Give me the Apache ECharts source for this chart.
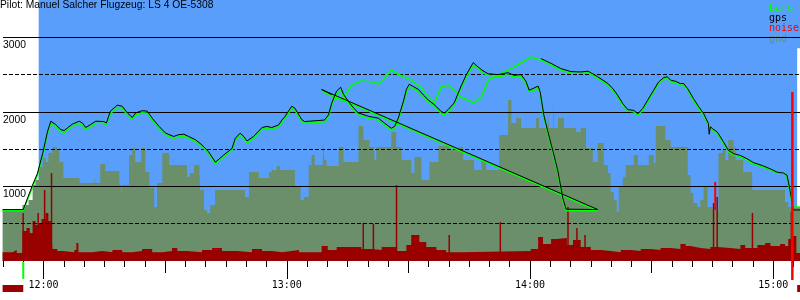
<!DOCTYPE html>
<html><head><meta charset="utf-8">
<script src="https://cdn.jsdelivr.net/npm/echarts@6/dist/echarts.min.js"></script>
<style>html,body{margin:0;padding:0;background:#fff}#c{width:800px;height:300px}</style>
</head><body><div id="c"></div>
<script>
// time values: minutes since midnight; altitudes: metres
const titleText = 'Pilot: Manuel Salcher Flugzeug: LS 4 OE-5308';
const seriesNames = ['baro', 'gps', 'noise', 'gnd'];
const hourTicks = [720, 780, 840, 900];
const halfHourTicks = [750, 810, 870];
const timeMin = 710, timeMax = 906.6;
const altMax = 3500;
const skySpan = [718.8, 905.9];

const gnd = [[709.9,684],[714.8,751],[716.3,818],[717.3,1019],[718.0,1086],[718.8,1153],[719.0,1261],[719.8,1381],[720.5,1328],[721.2,1448],[722.2,1529],[723.4,1489],[723.9,1328],[724.9,1113],[728.9,1046],[732.5,1113],[732.8,1046],[734.0,1301],[735.2,1207],[738.7,1019],[739.2,858],[739.4,1019],[741.1,1421],[741.9,1515],[742.6,1328],[744.1,1515],[745.1,1193],[746.1,979],[747.3,724],[748.0,1046],[749.3,1448],[751.0,1287],[755.4,1126],[756.1,1180],[757.1,1287],[758.4,1381],[758.6,952],[759.6,684],[760.3,644],[761.1,751],[762.3,952],[769.7,858],[770.7,1193],[773.1,1113],[775.6,1193],[776.3,1220],[777.5,1274],[778.3,1220],[782.0,992],[783.4,818],[784.2,858],[785.4,1287],[786.1,1421],[786.9,1287],[788.9,1623],[789.3,1354],[789.8,1274],[792.8,1529],[794.0,1328],[797.7,1810],[798.9,1623],[800.4,1529],[801.6,1354],[802.1,1529],[805.8,1730],[807.0,1529],[808.3,1354],[810.7,1180],[811.5,1395],[813.2,1086],[815.2,1328],[817.4,1542],[820.1,1489],[822.3,1529],[823.5,1354],[826.2,1220],[828.0,1354],[829.2,1220],[832.4,1690],[834.6,2159],[835.4,1851],[836.6,1918],[837.8,1784],[841.5,1918],[842.2,1784],[844.4,2025],[844.7,1784],[845.7,2199],[845.9,1784],[846.9,1918],[848.4,1784],[851.3,1730],[852.5,1784],[853.8,1515],[855.5,1328],[856.7,1582],[858.2,1287],[859.2,1180],[859.9,925],[860.7,818],[861.4,657],[861.9,992],[862.9,1126],[863.6,1287],[865.6,1421],[866.6,1287],[869.3,1421],[870.5,1314],[871.0,1810],[873.4,1623],[874.7,1529],[878.9,1153],[879.6,912],[880.3,778],[881.3,724],[882.0,818],[882.8,992],[883.8,724],[885.0,684],[886.5,1448],[887.5,1489],[888.2,1354],[888.9,1623],[890.2,1529],[890.7,1354],[892.6,1193],[894.8,952],[902.9,791],[903.7,724],[906.6,724]];

const baro = [[709.9,675],[715.0,675],[716.1,831],[717.3,996],[718.5,1153],[719.8,1421],[721.0,1716],[721.8,1847],[722.2,1868],[723.0,1801],[724.3,1734],[725.1,1726],[725.9,1757],[727.1,1810],[728.8,1847],[729.6,1824],[730.4,1766],[731.6,1801],[732.9,1847],[734.9,1847],[735.5,1824],[736.5,1981],[738.2,2061],[739.4,2048],[740.7,1958],[741.9,1900],[742.7,1958],[744.3,1989],[745.6,1981],[746.8,1891],[748.5,1780],[750.1,1690],[752.1,1645],[753.4,1667],[754.6,1676],[755.8,1645],[757.5,1600],[759.1,1533],[760.7,1444],[762.4,1301],[764.4,1399],[766.5,1489],[767.3,1623],[768.5,1690],[769.4,1645],[770.2,1586],[771.8,1645],[773.9,1766],[775.1,1780],[776.3,1766],[778.0,1801],[778.8,1864],[779.6,1914],[781.2,2048],[782.0,2025],[783.7,1868],[784.4,1847],[789.3,1868],[790.3,1935],[791.1,2092],[792.3,2249],[793.3,2293],[794.0,2203],[795.2,2115],[796.5,2025],[797.7,1958],[800.2,1914],[802.6,1891],[804.1,1824],[805.8,1757],[806.6,1780],[807.5,1891],[808.8,2115],[809.5,2270],[810.2,2337],[811.2,2316],[812.5,2270],[813.7,2203],[814.9,2136],[816.4,2069],[818.1,1981],[818.9,1958],[819.8,2002],[821.3,2092],[823.0,2316],[824.3,2471],[826.0,2628],[827.2,2584],[828.4,2517],[829.7,2494],[832.1,2471],[834.6,2494],[836.1,2471],[837.8,2471],[839.0,2383],[839.8,2270],[841.0,2293],[842.0,2316],[842.5,2249],[843.4,1935],[844.4,1712],[845.7,1444],[846.9,1176],[848.1,818],[848.9,675],[856.7,675],
[788.6,2284],[791.1,2213],[793.5,2159],[794.8,2253],[796.0,2360],[798.4,2414],[801.4,2400],[802.6,2374],[804.1,2454],[805.8,2561],[807.0,2521],[808.3,2481],[810.7,2427],[813.2,2320],[814.9,2199],[816.4,2119],[818.1,2333],[819.8,2360],[823.0,2199],[826.2,2119],[828.0,2199],[829.7,2427],[832.1,2494],[836.1,2601],[839.0,2695],[840.2,2736],[842.7,2695],[845.2,2628],[847.6,2561],[850.1,2521],[852.5,2517],[854.3,2525],[855.5,2494],[856.7,2450],[858.0,2404],[859.2,2360],[860.4,2293],[861.6,2203],[862.9,2092],[864.1,2012],[865.6,2002],[866.6,1958],[867.8,2025],[869.0,2136],[870.5,2270],[871.7,2383],[873.0,2441],[873.9,2450],[874.7,2404],[875.9,2391],[877.1,2360],[877.9,2360],[878.9,2293],[880.3,2159],[881.6,2048],[882.8,1958],[884.0,1824],[885.0,1757],[886.2,1712],[887.7,1578],[888.9,1466],[890.2,1421],[891.9,1399],[893.6,1354],[895.1,1301],[897.3,1265],[899.3,1220],[901.0,1176],[902.5,1176],[903.4,1130],[904.2,908],[904.7,751],[904.9,724],[906.6,724]];

const gps = [[709.9,690],[715.0,690],[716.1,850],[717.3,1020],[718.5,1175],[719.8,1445],[721.0,1740],[721.8,1875],[722.2,1895],[723.0,1830],[724.3,1760],[725.1,1750],[725.9,1785],[727.1,1835],[728.8,1875],[729.6,1850],[730.4,1790],[731.6,1830],[732.9,1875],[734.9,1870],[735.5,1850],[736.5,2010],[738.2,2090],[739.4,2075],[740.7,1985],[741.9,1925],[742.7,1985],[744.3,2015],[745.6,2010],[746.8,1915],[748.5,1805],[750.1,1715],[752.1,1670],[753.4,1695],[754.6,1700],[755.8,1670],[757.5,1625],[759.1,1555],[760.7,1465],[762.4,1325],[764.4,1420],[766.5,1510],[767.3,1645],[768.5,1715],[769.4,1670],[770.2,1610],[771.8,1670],[773.9,1790],[775.1,1805],[776.3,1790],[778.0,1825],[778.8,1890],[779.6,1940],[781.2,2075],[782.0,2050],[783.7,1895],[784.4,1870],[789.3,1890],[790.3,1960],[791.1,2120],[792.3,2280],[793.3,2330],[794.0,2235],[795.2,2140],[796.5,2050],[797.7,1985],[800.2,1940],[802.6,1915],[804.1,1850],[805.8,1780],[806.6,1805],[807.5,1915],[808.8,2145],[809.5,2300],[810.2,2370],[811.2,2340],[812.5,2300],[813.7,2225],[814.9,2160],[816.4,2095],[818.1,2005],[818.9,1985],[819.8,2030],[821.3,2120],[823.0,2345],[824.3,2500],[826.0,2660],[827.2,2600],[828.4,2550],[829.7,2510],[832.1,2500],[834.6,2525],[836.1,2490],[837.8,2500],[839.0,2410],[839.8,2290],[841.0,2320],[842.0,2345],[842.5,2270],[843.4,1960],[844.4,1735],[845.7,1465],[846.9,1200],[848.1,840],[848.9,695],[856.7,690],
[788.6,2300],[791.1,2230],[792.0,'-'],
[842.7,2715],[845.2,2650],[847.6,2580],[850.1,2540],[852.5,2535],[854.3,2545],[855.5,2510],[856.7,2470],[858.0,2425],[859.2,2380],[860.4,2315],[861.6,2225],[862.9,2110],[864.1,2030],[865.6,2020],[866.6,1975],[867.8,2045],[869.0,2155],[870.5,2290],[871.7,2400],[873.0,2460],[873.9,2470],[874.7,2425],[875.9,2410],[877.1,2380],[877.9,2380],[878.9,2310],[880.3,2180],[881.6,2070],[882.8,1980],[884.0,1845],[884.2,1700],[884.5,1800],[885.0,1775],[886.2,1730],[887.7,1600],[888.9,1485],[890.2,1440],[891.9,1415],[893.6,1370],[895.1,1320],[897.3,1280],[899.3,1235],[901.0,1190],[902.5,1180],[903.4,1150],[904.2,930],[904.7,770],[904.9,684],[906.6,684]];

// noise level (0..1000 scale)
const noise = [[709.9,34],[712.4,38],[712.9,42],[713.4,31],[714.8,115],[715.8,126],[716.6,107],[717.3,153],[718.0,138],[718.8,146],[719.5,161],[720.5,184],[721.2,153],[722.0,84],[722.2,46],[723.4,38],[724.7,34],[727.6,42],[728.1,69],[728.6,34],[732.0,38],[734.5,34],[737.0,42],[739.4,34],[741.9,38],[744.3,46],[746.8,34],[749.3,38],[751.7,50],[753.0,38],[755.4,34],[759.1,42],[761.6,50],[764.0,38],[767.7,34],[771.4,46],[773.9,38],[776.3,34],[778.8,38],[781.2,42],[783.0,34],[788.6,57],[790.1,42],[792.3,54],[798.4,46],[800.9,42],[803.4,54],[807.0,38],[809.5,61],[810.7,100],[812.7,73],[814.4,54],[816.9,42],[819.3,34],[823.0,38],[840.2,46],[842.0,92],[843.2,65],[845.2,84],[846.6,88],[849.1,61],[850.6,80],[852.5,54],[855.0,42],[857.5,38],[859.9,34],[862.4,42],[864.8,38],[867.3,46],[869.8,42],[872.2,50],[874.7,46],[877.1,65],[878.4,57],[879.6,50],[882.1,46],[884.5,54],[886.2,50],[889.4,46],[891.9,61],[893.1,50],[896.1,61],[898.0,69],[899.3,57],[901.7,65],[902.9,57],[903.7,84],[904.7,96],[905.7,31],[906.6,31]];
const noiseSpikes = [[714.7,184],[718.4,184],[720.0,272],[721.7,337],[798.6,146],[801.1,142],[806.8,291],[819.8,100],[832.4,149],[849.1,207],[851.3,126],[853.3,100],[885.0,222],[885.9,245],[894.6,184],[904.2,188]];
const noiseSpikesHigh = [[849.1,375],[885.9,303]];

const takeoff = [715.0];
const landing = [[904.7,2266]];
const groundTimes = [[709.9,715.0],[905.9,906.6]];

const C = {sky:'#5a9efc', gnd:'#6a8f6a', baro:'#00ff00', gps:'#000000', noise:'#990000', noiseHi:'#ff0000'};
const fmt = v => { const h = Math.floor(v/60), m = Math.round(v%60); return h + ':' + (m<10?'0':'') + m; };

const chart = echarts.init(document.getElementById('c'), null, {renderer:'canvas'});
const xBase = {type:'value', min:timeMin, max:timeMax, position:'bottom', gridIndex:0, z:5,
  axisLine:{show:false}, splitLine:{show:false}};
chart.setOption({
  animation:false,
  backgroundColor:'#ffffff',
  title:{text:titleText, left:0, top:0, padding:0, z:10,
    textStyle:{fontFamily:'Liberation Sans', fontSize:10.3, fontWeight:'normal', color:'#000'}},
  legend:{orient:'vertical', left:764, top:0, padding:[3,6,4,0], itemGap:0, itemWidth:0, itemHeight:10,
    icon:'none', selectedMode:false, backgroundColor:C.sky, z:4,
    textStyle:{fontFamily:'DejaVu Sans Mono', fontSize:10, lineHeight:10.3},
    data:[{name:'baro', textStyle:{color:C.baro}}, {name:'gps', textStyle:{color:'#000'}},
          {name:'noise', textStyle:{color:C.noiseHi}}, {name:'gnd', textStyle:{color:C.gnd}}]},
  grid:{left:0, right:0, top:0, bottom:39, containLabel:false},
  xAxis:[
    Object.assign({}, xBase, {interval:5, axisTick:{length:6, lineStyle:{color:'#000'}}, axisLabel:{show:false}}),
    Object.assign({}, xBase, {axisTick:{customValues:halfHourTicks, length:12, lineStyle:{color:'#000'}}, axisLabel:{show:false}}),
    Object.assign({}, xBase, {axisTick:{customValues:hourTicks, length:18, lineStyle:{color:'#000'}},
      axisLabel:{customValues:hourTicks, formatter:fmt, margin:19, fontFamily:'DejaVu Sans Mono', fontSize:10, color:'#000'}})
  ],
  yAxis:[
    {type:'value', min:0, max:altMax, interval:1000, z:5, axisLine:{show:false}, axisTick:{show:false},
      axisLabel:{inside:true, margin:0, verticalAlign:'top', padding:[3,0,0,0], showMinLabel:false, showMaxLabel:false,
        formatter: v => String(v), fontFamily:'Liberation Sans', fontSize:10.3, color:'#000'},
      splitLine:{show:true, showMinLine:false, showMaxLine:false, lineStyle:{color:'#000', width:1}}},
    {type:'value', min:0, max:altMax, interval:500, z:5, axisLine:{show:false}, axisTick:{show:false}, axisLabel:{show:false},
      splitLine:{show:true, showMinLine:false, showMaxLine:false, lineStyle:{color:'#000', width:1, type:[4,2]}}},
    {type:'value', min:0, max:1000, show:false}
  ],
  series:[
    {name:'sky', type:'line', data:[], silent:true,
      markArea:{silent:true, z:1, itemStyle:{color:C.sky, opacity:1}, data:[[{xAxis:skySpan[0]},{xAxis:skySpan[1]}]]}},
    {name:'noise', type:'bar', yAxisIndex:2, z:2, barWidth:2, silent:true, itemStyle:{color:C.noiseHi}, data:noiseSpikesHigh},
    {name:'gnd', type:'line', step:'end', z:3, symbol:'none', silent:true, lineStyle:{width:0},
      areaStyle:{color:C.gnd, opacity:1}, data:gnd},
    {name:'noise', type:'line', step:'end', yAxisIndex:2, z:4, symbol:'none', silent:true, lineStyle:{width:0},
      areaStyle:{color:C.noise, opacity:1}, data:noise},
    {name:'noise', type:'bar', yAxisIndex:2, z:4, barWidth:1.5, silent:true, itemStyle:{color:C.noise}, data:noiseSpikes},
    {name:'baro', type:'line', z:6, symbol:'none', silent:true, lineStyle:{color:C.baro, width:1.6}, itemStyle:{color:C.baro}, data:baro},
    {name:'gps', type:'line', z:7, symbol:'none', silent:true, connectNulls:false, lineStyle:{color:C.gps, width:1}, itemStyle:{color:C.gps}, data:gps},
    {name:'events', type:'custom', z:8, silent:true, clip:false,
      data: takeoff.map(t => [t, 0, 0]).concat(landing.map(d => [d[0], d[1], 1])),
      renderItem:(params, api) => {
        const t = api.value(0);
        const top = api.coord([t, api.value(1)]);
        const base = api.coord([t, 0]);
        if (api.value(2) === 0) {
          return {type:'rect', shape:{x:base[0]-1, y:base[1]+1, width:2, height:17}, style:{fill:C.baro}};
        }
        return {type:'rect', shape:{x:top[0]-1.2, y:top[1], width:2.5, height:base[1]+19-top[1]}, style:{fill:C.noiseHi}};
      }},
    {name:'ground', type:'custom', z:8, silent:true, clip:false,
      data: groundTimes,
      renderItem:(params, api) => {
        const a = api.coord([api.value(0), 0]);
        const b = api.coord([api.value(1), 0]);
        return {type:'rect', shape:{x:a[0], y:a[1]+24, width:b[0]-a[0], height:7}, style:{fill:C.noise}};
      }}
  ]
});
</script></body></html>
